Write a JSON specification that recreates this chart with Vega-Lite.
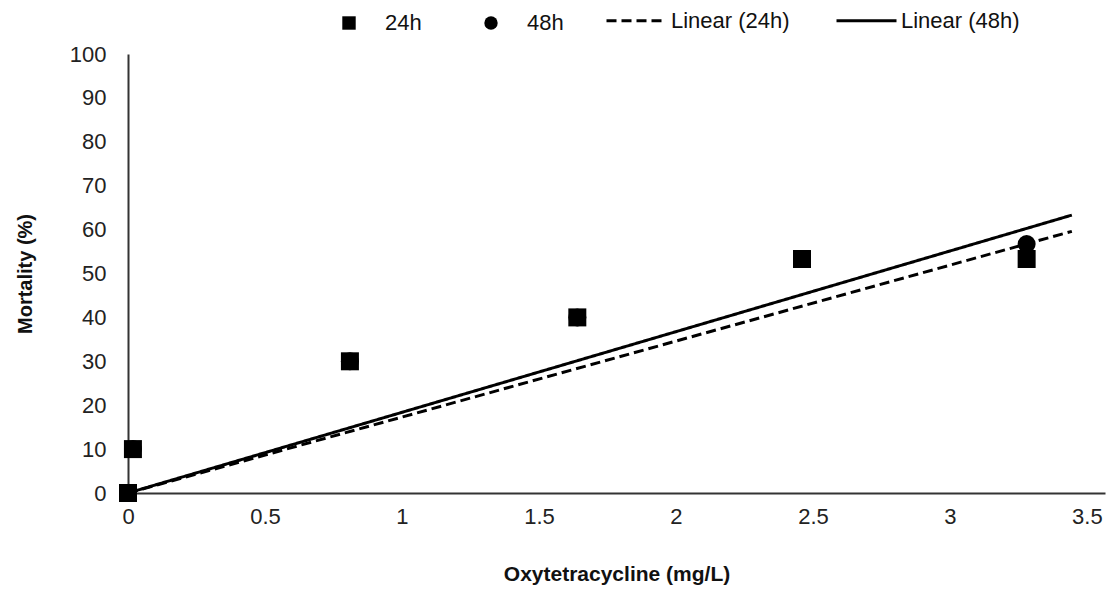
{
  "$schema": "https://vega.github.io/schema/vega-lite/v6.json",
  "width": 977,
  "height": 439,
  "autosize": {"type": "none"},
  "padding": {"left": 128, "top": 54, "right": 4, "bottom": 101},
  "background": "white",
  "config": {
    "view": {"stroke": null},
    "font": "Liberation Sans",
    "axis": {"grid": false, "ticks": false, "domainColor": "#333", "domainWidth": 2, "labelColor": "#222", "titleColor": "#111", "labelFont": "Liberation Sans", "titleFont": "Liberation Sans"},
    "legend": {"padding": 0, "labelFont": "Liberation Sans", "labelFontSize": 22, "labelColor": "#111"}
  },
  "datasets": {
    "points": [
      {"conc": 0, "mortality": 0, "series": "48h"},
      {"conc": 0.018, "mortality": 10, "series": "48h"},
      {"conc": 0.81, "mortality": 30, "series": "48h"},
      {"conc": 1.64, "mortality": 40, "series": "48h"},
      {"conc": 2.46, "mortality": 53.3, "series": "48h"},
      {"conc": 3.28, "mortality": 56.7, "series": "48h"},
      {"conc": 0, "mortality": 0, "series": "24h"},
      {"conc": 0.018, "mortality": 10, "series": "24h"},
      {"conc": 0.81, "mortality": 30, "series": "24h"},
      {"conc": 1.64, "mortality": 40, "series": "24h"},
      {"conc": 2.46, "mortality": 53.3, "series": "24h"},
      {"conc": 3.28, "mortality": 53.3, "series": "24h"}
    ],
    "lines": [
      {"conc": 0, "mortality": 0, "series": "Linear (24h)"},
      {"conc": 3.445, "mortality": 59.6, "series": "Linear (24h)"},
      {"conc": 0, "mortality": 0, "series": "Linear (48h)"},
      {"conc": 3.445, "mortality": 63.3, "series": "Linear (48h)"}
    ]
  },
  "encoding": {
    "x": {
      "field": "conc", "type": "quantitative",
      "scale": {"domain": [0, 3.566], "nice": false, "zero": false},
      "axis": {"values": [0, 0.5, 1, 1.5, 2, 2.5, 3, 3.5], "format": "~g", "title": "Oxytetracycline (mg/L)", "labelFontSize": 22, "labelPadding": 13, "titleFontSize": 21, "titleFontWeight": "bold", "titlePadding": 36, "labelFlush": false}
    },
    "y": {
      "field": "mortality", "type": "quantitative",
      "scale": {"domain": [0, 100], "nice": false},
      "axis": {"values": [0, 10, 20, 30, 40, 50, 60, 70, 80, 90, 100], "title": "Mortality (%)", "labelFontSize": 22, "labelPadding": 22, "titleFontSize": 20, "titleFontWeight": "bold", "titlePadding": 34}
    }
  },
  "layer": [
    {
      "data": {"name": "lines"},
      "mark": {"type": "line", "color": "black", "strokeWidth": 3},
      "encoding": {
        "detail": {"field": "series"},
        "strokeDash": {
          "field": "series", "type": "nominal",
          "scale": {"domain": ["Linear (24h)", "Linear (48h)"], "range": [[10, 5], [1, 0]]},
          "legend": {"title": null, "orient": "none", "legendX": 477, "legendY": -65, "direction": "horizontal", "symbolType": "stroke", "symbolSize": 3600, "symbolStrokeWidth": 3, "symbolStrokeColor": "black", "labelOffset": 3, "columnPadding": 40}
        }
      }
    },
    {
      "data": {"name": "points"},
      "mark": {"type": "point", "filled": true, "color": "black", "opacity": 1, "size": 324},
      "encoding": {
        "shape": {
          "field": "series", "type": "nominal",
          "scale": {"domain": ["24h", "48h"], "range": ["square", "circle"]},
          "legend": {"title": null, "orient": "none", "legendX": 210, "legendY": -42, "direction": "horizontal", "symbolSize": 180, "symbolFillColor": "black", "symbolStrokeWidth": 0, "symbolOpacity": 1, "labelOffset": 25, "columnPadding": 58}
        }
      }
    }
  ]
}
